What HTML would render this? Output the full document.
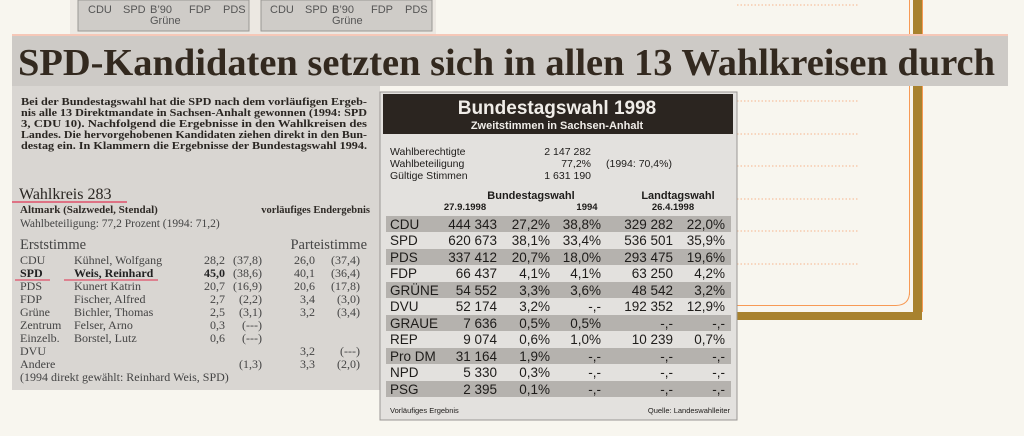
<!DOCTYPE html>
<html><head><meta charset="utf-8"><style>
html,body{margin:0;padding:0;background:#f8f6ef;}
svg{display:block}
.s{font-family:"Liberation Serif",serif}
.a{font-family:"Liberation Sans",sans-serif}
</style></head><body>
<svg width="1024" height="436" viewBox="0 0 1024 436" xmlns="http://www.w3.org/2000/svg">
<rect width="1024" height="436" fill="#f8f6ef"/>
<!-- top boxes -->
<rect x="70" y="0" width="366" height="36" fill="#ece8e2"/>
<rect x="78" y="0" width="171" height="31" fill="#cfccc8" stroke="#9a9794" stroke-width="1"/>
<rect x="261" y="0" width="171" height="31" fill="#cfccc8" stroke="#9a9794" stroke-width="1"/>
<g class="a" font-size="11" fill="#555">
<text x="88" y="13">CDU</text><text x="123" y="13">SPD</text><text x="150" y="13">B’90</text><text x="189" y="13">FDP</text><text x="223" y="13">PDS</text>
<text x="150" y="24">Grüne</text>
<text x="270" y="13">CDU</text><text x="305" y="13">SPD</text><text x="332" y="13">B’90</text><text x="371" y="13">FDP</text><text x="405" y="13">PDS</text>
<text x="332" y="24">Grüne</text>
</g>
<!-- dotted orange lines -->
<g stroke="#f6b48c" stroke-width="1" stroke-dasharray="1.5,2">
<line x1="737" y1="5" x2="858" y2="5"/>
<line x1="737" y1="101" x2="858" y2="101"/>
<line x1="737" y1="134" x2="858" y2="134"/>
<line x1="737" y1="166" x2="858" y2="166"/>
<line x1="737" y1="199" x2="858" y2="199"/>
<line x1="737" y1="231" x2="858" y2="231"/>
<line x1="737" y1="264" x2="858" y2="264"/>
</g>
<!-- gold frame -->
<rect x="913" y="0" width="9" height="312" fill="#a8822e"/>
<line x1="922.5" y1="0" x2="922.5" y2="312" stroke="#f79a55" stroke-width="1"/>
<line x1="909.5" y1="0" x2="909.5" y2="295" stroke="#f79a55" stroke-width="1"/>
<rect x="735" y="312" width="187" height="8" fill="#a8822e"/>
<path d="M735 305.5 H896 Q909.5 305 909.5 292" fill="none" stroke="#f79a55" stroke-width="1"/>
<!-- headline band -->
<rect x="12" y="34" width="996" height="3" fill="#f6c8b8"/>
<rect x="12" y="36" width="996" height="50" fill="#cdcac6"/>
<text class="s" x="18" y="75" font-size="38" font-weight="bold" textLength="977" lengthAdjust="spacingAndGlyphs" style="fill:#33291f">SPD-Kandidaten setzten sich in allen 13 Wahlkreisen durch</text>
<!-- left panel -->
<rect x="12" y="86" width="368" height="304" fill="#d9d6d2"/>
<g class="s" font-size="11" font-weight="bold" style="fill:#2a2622">
<text x="21" y="105" textLength="346" lengthAdjust="spacingAndGlyphs">Bei der Bundestagswahl hat die SPD nach dem vorläufigen Ergeb-</text>
<text x="21" y="116" textLength="346" lengthAdjust="spacingAndGlyphs">nis alle 13 Direktmandate in Sachsen-Anhalt gewonnen (1994: SPD</text>
<text x="21" y="127" textLength="346" lengthAdjust="spacingAndGlyphs">3, CDU 10). Nachfolgend die Ergebnisse in den Wahlkreisen des</text>
<text x="21" y="138" textLength="346" lengthAdjust="spacingAndGlyphs">Landes. Die hervorgehobenen Kandidaten ziehen direkt in den Bun-</text>
<text x="21" y="149" textLength="346" lengthAdjust="spacingAndGlyphs">destag ein. In Klammern die Ergebnisse der Bundestagswahl 1994.</text>
</g>
<text class="s" x="19" y="199" font-size="16" style="fill:#2a2622">Wahlkreis 283</text>
<line x1="12" y1="202" x2="127" y2="202" stroke="#e0506a" stroke-width="1.5"/>
<text class="s" x="20" y="213" font-size="11" font-weight="bold" style="fill:#2e2a26">Altmark (Salzwedel, Stendal)</text>
<text class="s" x="370" y="213" font-size="10.5" font-weight="bold" text-anchor="end" style="fill:#2e2a26">vorläufiges Endergebnis</text>
<text class="s" x="20" y="227" font-size="11.5" style="fill:#444">Wahlbeteiligung: 77,2 Prozent (1994: 71,2)</text>
<text class="s" x="20" y="249" font-size="14.5" style="fill:#444">Erststimme</text>
<text class="s" x="367" y="249" font-size="14.5" style="fill:#444" text-anchor="end">Parteistimme</text>
<g class="s" font-size="12" style="fill:#444">
<text x="20" y="264">CDU</text><text x="74" y="264">Kühnel, Wolfgang</text>
<text x="225" y="264" text-anchor="end">28,2</text><text x="262" y="264" text-anchor="end">(37,8)</text>
<text x="315" y="264" text-anchor="end">26,0</text><text x="360" y="264" text-anchor="end">(37,4)</text>
<g font-weight="bold" style="fill:#222"><text x="20" y="277">SPD</text><text x="74" y="277">Weis, Reinhard</text>
<text x="225" y="277" text-anchor="end">45,0</text></g><text x="262" y="277" text-anchor="end">(38,6)</text>
<text x="315" y="277" text-anchor="end">40,1</text><text x="360" y="277" text-anchor="end">(36,4)</text>
<text x="20" y="290">PDS</text><text x="74" y="290">Kunert Katrin</text>
<text x="225" y="290" text-anchor="end">20,7</text><text x="262" y="290" text-anchor="end">(16,9)</text>
<text x="315" y="290" text-anchor="end">20,6</text><text x="360" y="290" text-anchor="end">(17,8)</text>
<text x="20" y="303">FDP</text><text x="74" y="303">Fischer, Alfred</text>
<text x="225" y="303" text-anchor="end">2,7</text><text x="262" y="303" text-anchor="end">(2,2)</text>
<text x="315" y="303" text-anchor="end">3,4</text><text x="360" y="303" text-anchor="end">(3,0)</text>
<text x="20" y="316">Grüne</text><text x="74" y="316">Bichler, Thomas</text>
<text x="225" y="316" text-anchor="end">2,5</text><text x="262" y="316" text-anchor="end">(3,1)</text>
<text x="315" y="316" text-anchor="end">3,2</text><text x="360" y="316" text-anchor="end">(3,4)</text>
<text x="20" y="329">Zentrum</text><text x="74" y="329">Felser, Arno</text>
<text x="225" y="329" text-anchor="end">0,3</text><text x="262" y="329" text-anchor="end">(---)</text>
<text x="20" y="342">Einzelb.</text><text x="74" y="342">Borstel, Lutz</text>
<text x="225" y="342" text-anchor="end">0,6</text><text x="262" y="342" text-anchor="end">(---)</text>
<text x="20" y="355">DVU</text>
<text x="315" y="355" text-anchor="end">3,2</text><text x="360" y="355" text-anchor="end">(---)</text>
<text x="20" y="368">Andere</text><text x="262" y="368" text-anchor="end">(1,3)</text>
<text x="315" y="368" text-anchor="end">3,3</text><text x="360" y="368" text-anchor="end">(2,0)</text>
<text x="20" y="381">(1994 direkt gewählt: Reinhard Weis, SPD)</text>
</g>
<line x1="15" y1="280" x2="50" y2="280" stroke="#e0506a" stroke-width="1.3"/>
<line x1="64" y1="280" x2="158" y2="280" stroke="#e0506a" stroke-width="1.3"/>
<!-- table box -->
<rect x="380" y="92" width="357" height="328" fill="#e3e1de" stroke="#9a9794" stroke-width="1"/>
<rect x="383" y="94" width="350" height="40" fill="#2b2520"/>
<text class="a" x="557" y="114" font-size="19" font-weight="bold" style="fill:#f0ede8" text-anchor="middle">Bundestagswahl 1998</text>
<text class="a" x="557" y="129" font-size="11" font-weight="bold" style="fill:#f0ede8" text-anchor="middle">Zweitstimmen in Sachsen-Anhalt</text>
<g class="a" font-size="10.5" style="fill:#1e1c1a">
<text x="390" y="155">Wahlberechtigte</text><text x="591" y="155" text-anchor="end">2 147 282</text>
<text x="390" y="167">Wahlbeteiligung</text><text x="591" y="167" text-anchor="end">77,2%</text><text x="606" y="167">(1994: 70,4%)</text>
<text x="390" y="179">Gültige Stimmen</text><text x="591" y="179" text-anchor="end">1 631 190</text>
</g>
<g class="a" font-weight="bold" style="fill:#1e1c1a">
<text x="531" y="199" font-size="11" text-anchor="middle">Bundestagswahl</text>
<text x="465" y="210" font-size="9.5" text-anchor="middle">27.9.1998</text>
<text x="587" y="210" font-size="9.5" text-anchor="middle">1994</text>
<text x="678" y="199" font-size="11" text-anchor="middle">Landtagswahl</text>
<text x="673" y="210" font-size="9.5" text-anchor="middle">26.4.1998</text>
</g>
<g fill="#b5b2ae">
<rect x="386" y="216" width="345" height="16"/>
<rect x="386" y="249" width="345" height="16"/>
<rect x="386" y="282" width="345" height="16"/>
<rect x="386" y="315" width="345" height="16"/>
<rect x="386" y="348" width="345" height="16"/>
<rect x="386" y="381" width="345" height="16"/>
</g>
<g class="a" font-size="13.5" style="fill:#1e1c1a">
<g text-anchor="start">
<text x="390" y="229">CDU</text><text x="390" y="245">SPD</text><text x="390" y="262">PDS</text><text x="390" y="278">FDP</text><text x="390" y="295">GRÜNE</text><text x="390" y="311">DVU</text><text x="390" y="328">GRAUE</text><text x="390" y="344">REP</text><text x="390" y="361">Pro DM</text><text x="390" y="377">NPD</text><text x="390" y="394">PSG</text>
</g>
<g text-anchor="end">
<text x="497" y="229">444 343</text><text x="550" y="229">27,2%</text><text x="601" y="229">38,8%</text><text x="673" y="229">329 282</text><text x="725" y="229">22,0%</text>
<text x="497" y="245">620 673</text><text x="550" y="245">38,1%</text><text x="601" y="245">33,4%</text><text x="673" y="245">536 501</text><text x="725" y="245">35,9%</text>
<text x="497" y="262">337 412</text><text x="550" y="262">20,7%</text><text x="601" y="262">18,0%</text><text x="673" y="262">293 475</text><text x="725" y="262">19,6%</text>
<text x="497" y="278">66 437</text><text x="550" y="278">4,1%</text><text x="601" y="278">4,1%</text><text x="673" y="278">63 250</text><text x="725" y="278">4,2%</text>
<text x="497" y="295">54 552</text><text x="550" y="295">3,3%</text><text x="601" y="295">3,6%</text><text x="673" y="295">48 542</text><text x="725" y="295">3,2%</text>
<text x="497" y="311">52 174</text><text x="550" y="311">3,2%</text><text x="601" y="311">-,-</text><text x="673" y="311">192 352</text><text x="725" y="311">12,9%</text>
<text x="497" y="328">7 636</text><text x="550" y="328">0,5%</text><text x="601" y="328">0,5%</text><text x="673" y="328">-,-</text><text x="725" y="328">-,-</text>
<text x="497" y="344">9 074</text><text x="550" y="344">0,6%</text><text x="601" y="344">1,0%</text><text x="673" y="344">10 239</text><text x="725" y="344">0,7%</text>
<text x="497" y="361">31 164</text><text x="550" y="361">1,9%</text><text x="601" y="361">-,-</text><text x="673" y="361">-,-</text><text x="725" y="361">-,-</text>
<text x="497" y="377">5 330</text><text x="550" y="377">0,3%</text><text x="601" y="377">-,-</text><text x="673" y="377">-,-</text><text x="725" y="377">-,-</text>
<text x="497" y="394">2 395</text><text x="550" y="394">0,1%</text><text x="601" y="394">-,-</text><text x="673" y="394">-,-</text><text x="725" y="394">-,-</text>
</g>
</g>
<text class="a" x="390" y="413" font-size="7.5" style="fill:#1e1c1a">Vorläufiges Ergebnis</text>
<text class="a" x="730" y="413" font-size="7.5" text-anchor="end" style="fill:#1e1c1a">Quelle: Landeswahlleiter</text>
</svg>
</body></html>
